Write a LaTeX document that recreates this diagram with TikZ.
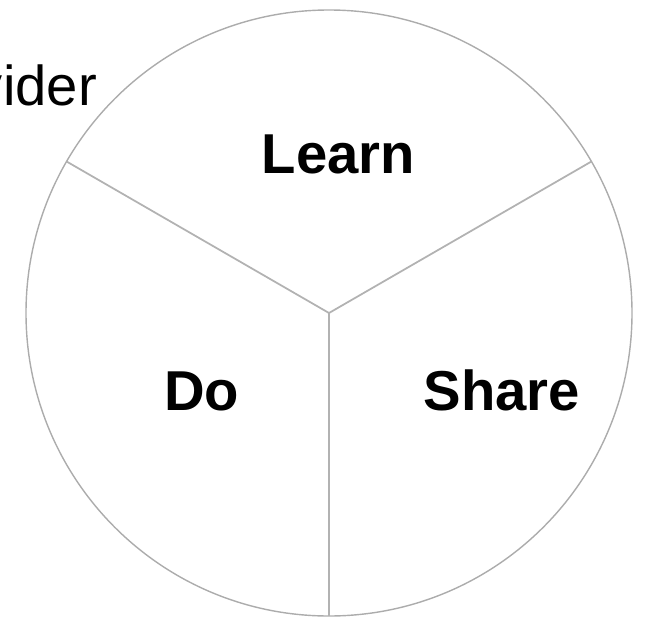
\documentclass[tikz,border=0pt]{standalone}
\usepackage{fontspec}
\setmainfont{Liberation Sans}
\usetikzlibrary{calc}
\tikzset{
  rim/.style={draw=gray!65, line width=0.8pt},
  spoke/.style={draw=gray!60, line width=1pt},
  part/.style={font=\fontsize{32}{38}\selectfont\bfseries, anchor=base},
}
\begin{document}
\begin{tikzpicture}
\useasboundingbox (0,0) rectangle (13.02,12.34); % page
\coordinate (hub) at (6.58,6.08); % centre of the wheel
\draw[rim] (hub) circle (6.06); % wheel
\coordinate (left) at ($(hub)+(150:6.06)$);
\coordinate (right) at ($(hub)+(30:6.06)$);
\coordinate (bottom) at ($(hub)+(270:6.06)$);
\draw[spoke] (hub) -- (left); % upper left spoke
\draw[spoke] (hub) -- (right); % upper right spoke
\draw[spoke] (hub) -- (bottom); % lower spoke

\node[part] (learn) at (6.77,8.88) {Learn};
\node[part] (do) at (4.03,4.14) {Do};
\node[part] (share) at (10.04,4.14) {Share};
\node[font=\fontsize{32}{38}\selectfont, anchor=base east] (provider) at (2.06,10.24) {Provider};

\end{tikzpicture}
\end{document}
